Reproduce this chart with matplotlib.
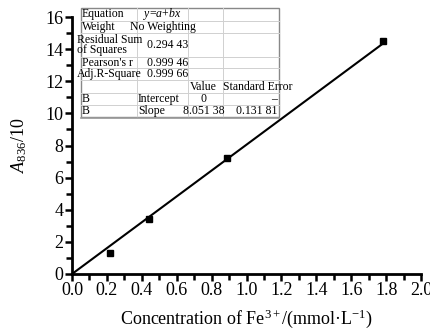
import matplotlib
matplotlib.use("Agg")
import matplotlib.pyplot as plt
from matplotlib.ticker import MultipleLocator
from matplotlib.patches import Rectangle

plt.rcParams['font.family'] = ['Liberation Serif', 'DejaVu Serif']
plt.rcParams['mathtext.fontset'] = 'custom'
plt.rcParams['mathtext.rm'] = 'Liberation Serif'
plt.rcParams['mathtext.it'] = 'Liberation Serif:italic'

# measured points
conc = [0.22, 0.44, 0.89, 1.78]
absorb = [1.3, 3.4, 7.2, 14.5]

# linear fit y = a + b x
intercept = 0.0
slope = 8.05138
fit_x = [0.0, 1.78]

# fit report table (label, col2, col3, col4)
table_rows = [
    ["Equation", "$y$=$a$+$bx$", "", ""],
    ["Weight", "No Weighting", "", ""],
    ["Residual Sum\nof Squares", "0.294 43", "", ""],
    ["Pearson's r", "0.999 46", "", ""],
    ["Adj.R-Square", "0.999 66", "", ""],
    ["", "", "Value", "Standard Error"],
    ["B", "Intercept", "0", "\u2013"],
    ["B", "Slope", "8.051 38", "0.131 81"],
]

W, H = 430, 335
fig = plt.figure(figsize=(W / 100, H / 100), dpi=100)
ax = fig.add_axes([72 / W, 1 - 274 / H, (421 - 72) / W, (274 - 17) / H])

fit_y = [intercept + slope * x for x in fit_x]
ax.plot(fit_x, fit_y, color='black', lw=1.5)
ax.plot(conc, absorb, 's', color='black', ms=4.5)

ax.set_xlim(0, 2.0)
ax.set_ylim(0, 16)
ax.xaxis.set_major_locator(MultipleLocator(0.2))
ax.xaxis.set_minor_locator(MultipleLocator(0.1))
ax.yaxis.set_major_locator(MultipleLocator(2))
ax.yaxis.set_minor_locator(MultipleLocator(1))
ax.xaxis.set_major_formatter(plt.FuncFormatter(lambda v, p: f"{v:.1f}"))
ax.yaxis.set_major_formatter(plt.FuncFormatter(lambda v, p: f"{v:.0f}"))
for s in ['top', 'right']:
    ax.spines[s].set_visible(False)
for s in ['left', 'bottom']:
    ax.spines[s].set_linewidth(2)
ax.tick_params(which='both', direction='out', width=1.8, labelsize=13, pad=1)
ax.tick_params(which='major', length=5)
ax.tick_params(which='minor', length=4)

ax.set_xlabel("Concentration of Fe$^{3+}$/(mmol\u00b7L$^{-1}$)", fontsize=13, labelpad=6)
ax.set_ylabel("$A_{836}$/10", fontsize=13, labelpad=12)

# table overlay in pixel coordinates
tab = fig.add_axes([0, 0, 1, 1])
tab.set_xlim(0, W)
tab.set_ylim(H, 0)
tab.axis('off')

cols = [81, 137, 188, 223, 279]
rows = [8, 21, 33, 57, 68, 80, 93, 105, 117]
tab.add_patch(Rectangle((cols[0], rows[0]), cols[-1] - cols[0], rows[-1] - rows[0],
                        facecolor='white', edgecolor='#888888', lw=1.0))
for y in rows[1:-1]:
    tab.plot([cols[0], cols[-1]], [y, y], color='#d0d0d0', lw=0.7)
for x in cols[1:-1]:
    tab.plot([x, x], [rows[0], rows[-1]], color='#d0d0d0', lw=0.7)
tab.plot([cols[0], cols[-1]], [rows[-1] + 1, rows[-1] + 1], color='#999999', lw=1.2)

fs = 8.5
for i, r in enumerate(table_rows):
    yc = (rows[i] + rows[i + 1]) / 2
    lab, c2, c3, c4 = r
    lx = 77 if "\n" in lab or lab.startswith("Adj") else 82
    if lab:
        tab.text(lx, yc, lab, fontsize=fs, ha='left', va='center', linespacing=0.85)
    if c2:
        if lab == "B":
            tab.text(cols[1] + 1, yc, c2, fontsize=fs, ha='left', va='center')
        elif c2[0].isdigit():
            tab.text(188, yc, c2, fontsize=fs, ha='right', va='center')
        else:
            tab.text((cols[1] + cols[2]) / 2, yc, c2, fontsize=fs, ha='center', va='center')
    if c3:
        tab.text((cols[2] + cols[3]) / 2 - 2, yc, c3, fontsize=fs, ha='center', va='center')
    if c4:
        if lab == "B":
            tab.text(cols[4] - 2, yc, c4, fontsize=fs, ha='right', va='center')
        else:
            tab.text(cols[3], yc, c4, fontsize=fs, ha='left', va='center')

fig.savefig("out.png", dpi=100)
